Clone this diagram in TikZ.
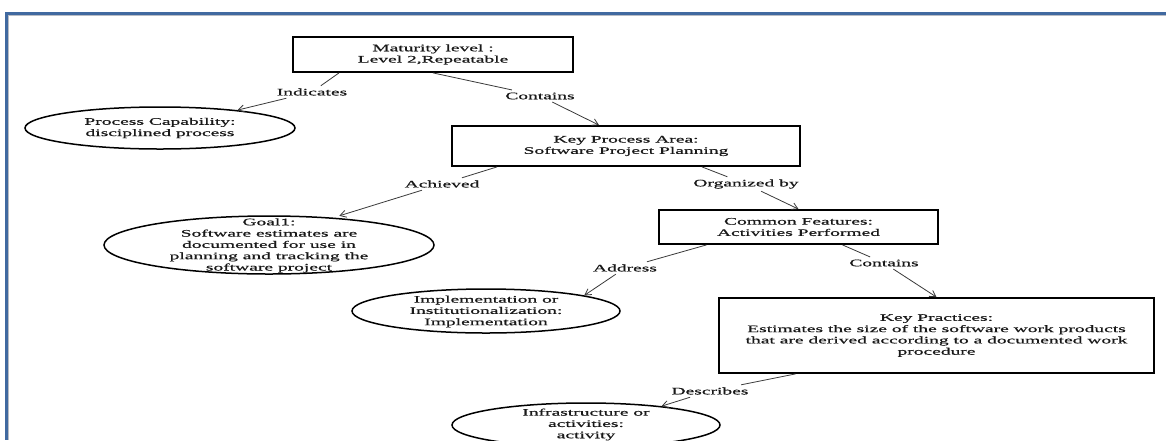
\documentclass[tikz,border=0pt]{standalone}
\usepackage{fontspec}
\setmainfont{Liberation Serif}[FakeStretch=1.95,FakeBold=0.7]
\usetikzlibrary{shapes.geometric,arrows.meta}
\definecolor{frameblue}{HTML}{4169A0}
\definecolor{framegray}{HTML}{B8BCC4}
\definecolor{linkgray}{HTML}{3A3A3A}
\begin{document}
\begin{tikzpicture}[x=1pt,y=-1pt,
  every node/.style={font=\fontsize{10}{11.3}\selectfont, align=center, text=black!90},
  box/.style={draw=black, line width=1.8pt, rectangle, inner sep=0pt},
  oval/.style={draw=black, line width=1.5pt, ellipse, inner sep=0pt},
  rel/.style={inner sep=2.5pt},
  link/.style={draw=linkgray, line width=0.8pt},
  arrowlink/.style={link, -{Straight Barb[length=6pt,width=7pt]}}
]
\useasboundingbox (0,0) rectangle (1166,440);
\clip (0,0) rectangle (1166,440);
\fill[white] (0,0) rectangle (1166,440);

% page frame (top and left rules)
\fill[frameblue] (5,12) rectangle (1166,14.5);
\fill[frameblue] (5,12) rectangle (8,440);
\fill[framegray] (8,14.5) rectangle (1166,15.5);
\fill[framegray] (8,14.5) rectangle (9,440);

% boxes
\node[box, minimum width=280pt, minimum height=35pt] (mat) at (433,54.5)
  {Maturity level :\\Level 2,Repeatable};
\node[box, minimum width=348pt, minimum height=40pt] (kpa) at (626,146)
  {Key Process Area:\\Software Project Planning};
\node[box, minimum width=279pt, minimum height=34pt] (cf) at (798.5,227)
  {Common Features:\\Activities Performed};
\node[box, minimum width=435pt, minimum height=75pt] (kp) at (936.5,335.5)
  {Key Practices:\\Estimates the size of the software work products\\that are derived according to a documented work\\procedure};

% ellipses
\node[oval, minimum width=270pt, minimum height=42pt] (pc) at (160,128) {};
\node (pctext) at (pc) {Process Capability:\\disciplined process};
\node[oval, minimum width=330pt, minimum height=58pt] (goal) at (269,245) {};
\node (goaltext) at (269,245.5) {Goal1:\\Software estimates are\\documented for use in\\planning and tracking the\\software project};
\node[oval, minimum width=268pt, minimum height=44pt] (impl) at (486,311) {};
\node (impltext) at (486,311.5) {Implementation or\\Institutionalization:\\Implementation};
\node[oval, minimum width=268pt, minimum height=44pt] (infra) at (586,425) {};
\node (infratext) at (586,424.5) {Infrastructure or\\activities:\\activity};

% relation labels
\node[rel] (ind) at (312,92) {Indicates};
\node[rel] (cont1) at (540,96) {Contains};
\node[rel] (ach) at (442,184) {Achieved};
\node[rel] (org) at (746,184) {Organized by};
\node[rel] (addr) at (625,268) {Address};
\node[rel] (cont2) at (884,263) {Contains};
\node[rel] (desc) at (710,391) {Describes};

% connectors
\draw[link] ([xshift=-94pt]mat.south) -- (ind);
\draw[arrowlink] (ind) -- (pc.13);
\draw[link] (mat.south) -- (cont1);
\draw[arrowlink] (cont1) -- ([xshift=-27pt]kpa.north);
\draw[link] ([xshift=-129pt]kpa.south) -- (ach);
\draw[arrowlink, shorten >=6pt] (ach) -- (goal.23);
\draw[link] ([xshift=76pt]kpa.south) -- (org);
\draw[arrowlink] (org) -- (cf.north);
\draw[link] ([xshift=-92pt]cf.south) -- (addr);
\draw[arrowlink] (addr) -- (impl.9);
\draw[link] ([xshift=44pt]cf.south) -- (cont2);
\draw[arrowlink] (cont2) -- (kp.north);
\draw[link] ([xshift=-141pt]kp.south) -- (desc);
\draw[arrowlink] (desc) -- (infra.14);
\end{tikzpicture}
\end{document}
